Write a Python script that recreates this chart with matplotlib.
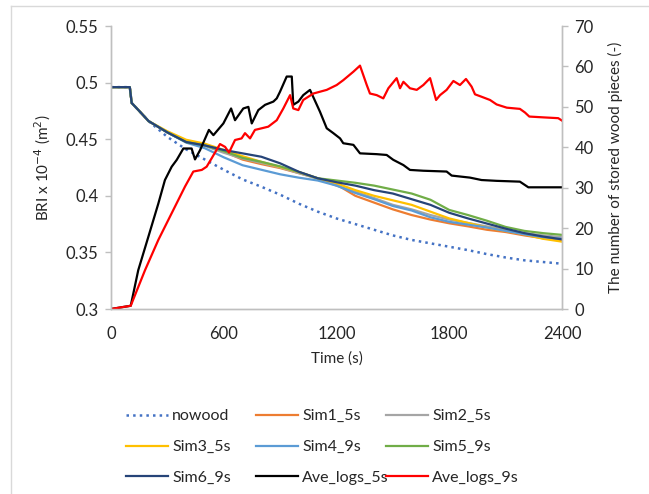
import numpy as np
import matplotlib
matplotlib.use('Agg')
import matplotlib.pyplot as plt
from matplotlib.lines import Line2D

plt.rcParams['font.family'] = ['Lato', 'DejaVu Sans']

# ── BRI curves (left axis, x 1e-4 m2) ─────────────────────────
t_sim = [0, 100, 110, 150, 200, 300, 400, 500, 600, 700, 800, 900, 1000,
         1100, 1200, 1300, 1400, 1500, 1600, 1700, 1800, 1900, 2000, 2100,
         2200, 2300, 2400]
trunk = [0.496, 0.496, 0.482, 0.475, 0.466, 0.456]

nowood = [0.496, 0.496, 0.482, 0.475, 0.466, 0.452, 0.441, 0.432, 0.423, 0.4145,
          0.408, 0.401, 0.393, 0.386, 0.380, 0.375, 0.370, 0.365, 0.361, 0.358,
          0.355, 0.352, 0.3485, 0.3455, 0.343, 0.3415, 0.340]
sim1 = trunk + [0.448, 0.445, 0.439, 0.432, 0.428, 0.4245, 0.420, 0.4155, 0.410,
                0.400, 0.394, 0.388, 0.383, 0.379, 0.3757, 0.373, 0.370, 0.368,
                0.365, 0.3625, 0.3605]
sim2 = trunk + [0.448, 0.444, 0.438, 0.433, 0.429, 0.425, 0.420, 0.415, 0.409,
                0.4035, 0.398, 0.392, 0.388, 0.383, 0.379, 0.376, 0.373, 0.370,
                0.367, 0.365, 0.3635]
sim3 = [0.496, 0.496, 0.482, 0.475, 0.466, 0.457, 0.4495, 0.446, 0.4405, 0.435,
        0.430, 0.4255, 0.421, 0.4155, 0.411, 0.405, 0.400, 0.396, 0.392, 0.386,
        0.380, 0.376, 0.372, 0.369, 0.366, 0.362, 0.3595]
sim4 = trunk + [0.447, 0.442, 0.434, 0.427, 0.423, 0.419, 0.416, 0.4135, 0.409,
                0.4025, 0.397, 0.391, 0.387, 0.381, 0.377, 0.3745, 0.372, 0.369,
                0.366, 0.3635, 0.362]
sim5 = trunk + [0.4475, 0.4445, 0.4395, 0.4335, 0.430, 0.426, 0.421, 0.4155, 0.4135,
                0.4115, 0.409, 0.4055, 0.402, 0.3965, 0.3875, 0.383, 0.378, 0.3725,
                0.369, 0.367, 0.3655]
sim6 = trunk + [0.4475, 0.4445, 0.4405, 0.4375, 0.4345, 0.4287, 0.4212, 0.4155, 0.412,
                0.409, 0.405, 0.402, 0.397, 0.392, 0.385, 0.380, 0.3755, 0.371,
                0.367, 0.364, 0.3615]

# ── Stored wood pieces (right axis) ───────────────────────────
t_log5 = [0, 105, 145, 199, 252, 287, 323, 350, 385, 429, 447, 474, 521, 545, 598,
          639, 660, 704, 731, 749, 784, 820, 864, 882, 899, 935, 962, 970, 997,
          1023, 1059, 1112, 1148, 1183, 1219, 1236, 1290, 1325, 1414, 1467, 1502,
          1556, 1591, 1662, 1786, 1813, 1910, 1972, 2052, 2176, 2221, 2400]
log5 = [0, 0.8, 9.6, 17.9, 26.1, 31.9, 35.2, 36.9, 39.7, 39.7, 37.0, 39.3, 44.3,
        43.0, 45.9, 49.6, 46.7, 49.6, 50.0, 45.9, 49.2, 50.5, 51.3, 52.1, 53.7,
        57.5, 57.5, 50.5, 51.3, 52.9, 54.2, 48.8, 44.7, 43.5, 42.2, 41.0, 40.6,
        38.5, 38.3, 38.1, 36.9, 35.6, 34.4, 34.2, 34.0, 33.0, 32.5, 31.9, 31.7,
        31.5, 30.1, 30.1]

t_log9 = [0, 105, 181, 252, 323, 394, 438, 483, 509, 536, 580, 607, 628, 660, 695,
          713, 740, 766, 802, 837, 882, 917, 953, 970, 997, 1023, 1077, 1148, 1201,
          1236, 1290, 1325, 1361, 1378, 1414, 1449, 1476, 1520, 1538, 1556, 1591,
          1627, 1662, 1698, 1730, 1751, 1786, 1822, 1857, 1889, 1919, 1937, 1972,
          2017, 2052, 2106, 2176, 2203, 2226, 2300, 2380, 2400]
log9 = [0, 0.8, 9.6, 17.1, 23.7, 30.3, 34.0, 34.4, 35.2, 37.3, 40.8, 40.1, 38.7,
        41.8, 42.2, 43.5, 42.2, 44.3, 44.7, 45.1, 46.7, 49.6, 52.9, 49.6, 49.2,
        51.7, 53.3, 54.2, 55.4, 56.6, 58.7, 60.2, 55.4, 53.3, 52.9, 52.1, 54.6,
        57.1, 54.6, 56.2, 54.6, 54.2, 55.4, 57.1, 51.7, 52.9, 54.2, 56.4, 55.4,
        56.9, 55.0, 53.1, 52.5, 51.7, 50.6, 49.8, 49.5, 48.6, 47.6, 47.4, 47.2,
        46.6]

W, H = 649, 494
fig = plt.figure(figsize=(W / 100, H / 100), dpi=100)
ax = fig.add_axes([111 / W, 1 - 309 / H, (562 - 111) / W, (309 - 26) / H])
ax2 = ax.twinx()

grey = '#BFBFBF'
txt = '#262626'

sim_series = [
    (nowood, 'nowood', '#4472C4', ':'),
    (sim1, 'Sim1_5s', '#ED7D31', '-'),
    (sim2, 'Sim2_5s', '#A5A5A5', '-'),
    (sim3, 'Sim3_5s', '#FFC000', '-'),
    (sim4, 'Sim4_9s', '#5B9BD5', '-'),
    (sim5, 'Sim5_9s', '#70AD47', '-'),
    (sim6, 'Sim6_9s', '#264478', '-'),
]
handles = []
for vals, lbl, col, ls in sim_series:
    lw = 1.8 if ls == ':' else 1.6
    ln, = ax.plot(t_sim, vals, color=col, linestyle=ls, linewidth=lw, label=lbl)
    handles.append(ln)

l5, = ax2.plot(t_log5, log5, color='black', linewidth=1.6, label='Ave_logs_5s')
l9, = ax2.plot(t_log9, log9, color='#FF0000', linewidth=1.6, label='Ave_logs_9s')
handles += [l5, l9]

ax.set_xlim(0, 2400)
ax.set_ylim(0.3, 0.55)
ax2.set_ylim(0, 70)
ax.set_xticks([0, 600, 1200, 1800, 2400])
ax.set_yticks([0.3, 0.35, 0.4, 0.45, 0.5, 0.55])
ax.set_yticklabels(['0.3', '0.35', '0.4', '0.45', '0.5', '0.55'])
ax2.set_yticks(range(0, 71, 10))

for a in (ax, ax2):
    for s in a.spines.values():
        s.set_color(grey)
        s.set_linewidth(1.0)
    a.spines['top'].set_visible(False)
ax.tick_params(axis='x', length=0, pad=12, labelsize=12, labelcolor=txt)
ax.tick_params(axis='y', length=4, width=1, color=grey, pad=5, labelsize=12,
               labelcolor=txt)
ax2.tick_params(axis='y', length=4, width=1, color=grey, pad=5, labelsize=12,
                labelcolor=txt)

ax.set_xlabel('Time (s)', fontsize=11, color=txt, labelpad=7)
ax.set_ylabel('BRI x 10$^{-4}$ (m$^{2}$)', fontsize=11, color=txt, labelpad=9)
ax2.set_ylabel('The number of stored wood pieces (-)', fontsize=11, color=txt,
               labelpad=10)

# legend laid out row by row in three equal columns
col_x = [118, 248, 378]
for c in range(3):
    hs = [handles[c + 3 * r] for r in range(3)]
    fig.legend(hs, [h.get_label() for h in hs], loc='upper left',
               bbox_to_anchor=(col_x[c] / W, 1 - 401 / H), frameon=False,
               fontsize=11.5, handlelength=2.6, handletextpad=0.3,
               labelspacing=1.05, borderpad=0, labelcolor=txt)

# light frame (left and top edges visible)
fig.add_artist(Line2D([11 / W, 11 / W], [0, 1 - 6 / H], color='#D9D9D9', lw=1))
fig.add_artist(Line2D([11 / W, 1], [1 - 6 / H, 1 - 6 / H], color='#D9D9D9', lw=1))

fig.savefig('out.png', dpi=100)
